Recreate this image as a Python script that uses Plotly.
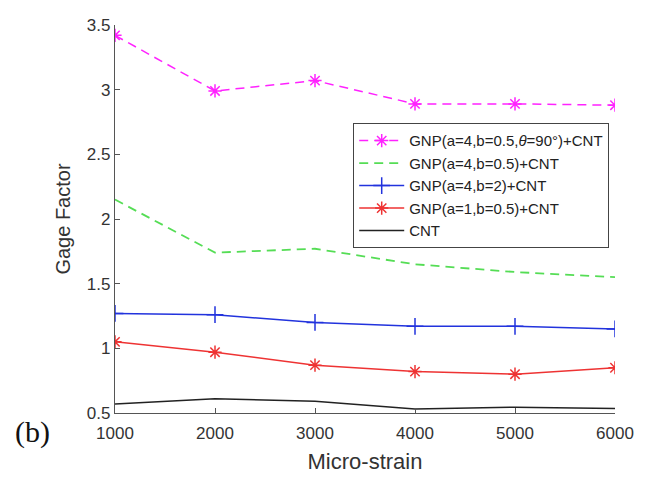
import plotly.graph_objects as go

strain = [1000, 2000, 3000, 4000, 5000, 6000]
gnp_theta = [3.42, 2.99, 3.07, 2.89, 2.89, 2.88]
gnp_a4_b05 = [2.15, 1.74, 1.77, 1.65, 1.59, 1.55]
gnp_a4_b2 = [1.27, 1.26, 1.20, 1.17, 1.17, 1.15]
gnp_a1_b05 = [1.05, 0.97, 0.87, 0.82, 0.80, 0.85]
cnt = [0.57, 0.61, 0.59, 0.53, 0.545, 0.535]

names = [
    "GNP(a=4,b=0.5,<i>θ</i>=90°)+CNT",
    "GNP(a=4,b=0.5)+CNT",
    "GNP(a=4,b=2)+CNT",
    "GNP(a=1,b=0.5)+CNT",
    "CNT",
]

fig = go.Figure()
fig.add_trace(go.Scatter(x=strain, y=gnp_theta, name=names[0], mode="lines+markers",
                         line=dict(color="#ff22ff", width=1.5, dash="9px,6px"),
                         marker=dict(symbol="asterisk-open", size=11,
                                     line=dict(color="#ff22ff", width=1.5))))
fig.add_trace(go.Scatter(x=strain, y=gnp_a4_b05, name=names[1], mode="lines",
                         line=dict(color="#55dd55", width=1.8, dash="9px,6px")))
fig.add_trace(go.Scatter(x=strain, y=gnp_a4_b2, name=names[2], mode="lines+markers",
                         line=dict(color="#2233dd", width=1.5),
                         marker=dict(symbol="cross-thin-open", size=12,
                                     line=dict(color="#2233dd", width=1.5))))
fig.add_trace(go.Scatter(x=strain, y=gnp_a1_b05, name=names[3], mode="lines+markers",
                         line=dict(color="#ee3333", width=1.5),
                         marker=dict(symbol="asterisk-open", size=11,
                                     line=dict(color="#ee3333", width=1.5))))
fig.add_trace(go.Scatter(x=strain, y=cnt, name=names[4], mode="lines",
                         line=dict(color="#222222", width=1.5)))

axis_font = dict(family="Liberation Sans, Arial", size=17, color="#333333")

fig.update_layout(
    width=646, height=487,
    margin=dict(l=115, r=27, t=25, b=74),
    paper_bgcolor="white", plot_bgcolor="white",
    font=dict(family="Liberation Sans, Arial", color="#222222"),
    showlegend=True,
    legend=dict(x=0.476, y=0.747, xanchor="left", yanchor="top",
                bgcolor="white", bordercolor="#444444", borderwidth=1.2,
                font=dict(family="Liberation Sans, Arial", size=15, color="#222222"),
                itemwidth=45, tracegroupgap=0),
    xaxis=dict(range=[1000, 6000], tickvals=strain, ticktext=[str(v) for v in strain],
               showgrid=False, zeroline=False, showline=True, linecolor="#555555",
               linewidth=1.2, ticks="inside", ticklen=5, tickcolor="#555555",
               tickfont=axis_font, ticklabelstandoff=4,
               title=dict(text="Micro-strain", font=dict(family="Liberation Sans, Arial",
                                                         size=22, color="#333333"),
                          standoff=12)),
    yaxis=dict(range=[0.5, 3.5], tickvals=[0.5, 1, 1.5, 2, 2.5, 3, 3.5],
               ticktext=["0.5", "1", "1.5", "2", "2.5", "3", "3.5"],
               showgrid=False, zeroline=False, showline=True, linecolor="#555555",
               linewidth=1.2, ticks="inside", ticklen=5, tickcolor="#555555",
               tickfont=axis_font,
               title=dict(text="Gage Factor", font=dict(family="Liberation Sans, Arial",
                                                        size=20, color="#333333"),
                          standoff=10)),
    annotations=[dict(text="(b)", xref="paper", yref="paper", x=-0.165, y=-0.05,
                      xanchor="center", yanchor="middle", showarrow=False,
                      font=dict(family="Liberation Serif, Times New Roman", size=30,
                                color="#111111"))],
)

fig.write_html("out.html")
